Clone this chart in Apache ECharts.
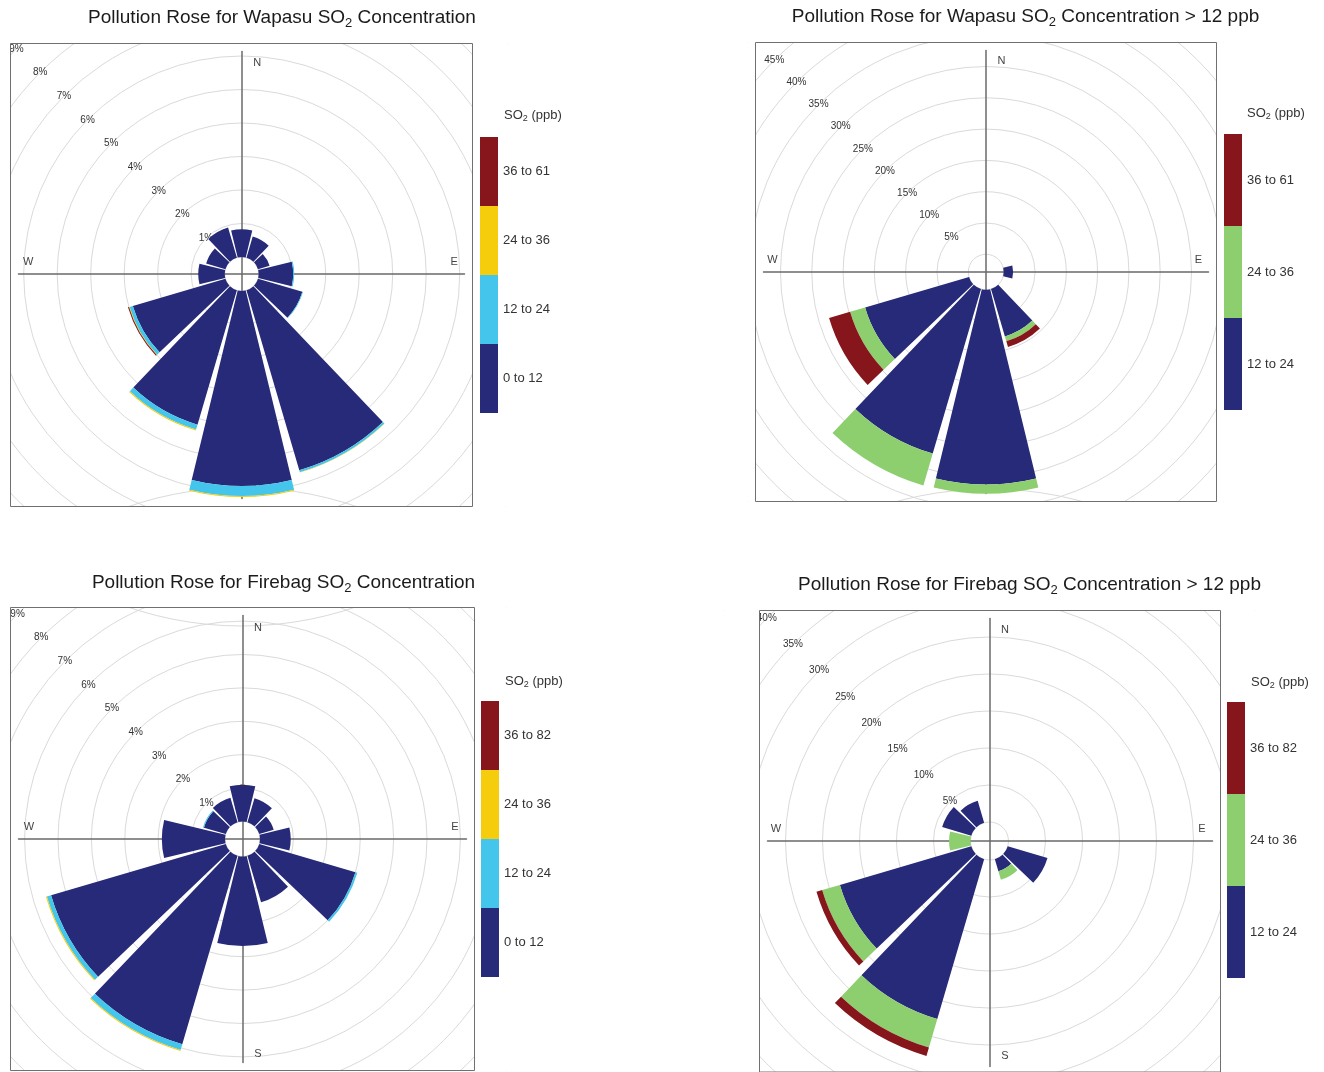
<!DOCTYPE html>
<html>
<head>
<meta charset="utf-8">
<title>Pollution Roses – Wapasu and Firebag SO2</title>
<script src="https://cdn.jsdelivr.net/npm/echarts@6/dist/echarts.min.js"></script>
<style>
  html, body { margin: 0; padding: 0; background: #fff; }
  #chart { width: 1324px; height: 1072px; }
</style>
</head>
<body>
<div id="chart"></div>
<script>
// Wind sectors (degrees clockwise from north), 30° wide
const sectors = ['0', '30', '60', '90', '120', '150', '180', '210', '240', '270', '300', '330'];

// Wapasu, all hours: frequency (% of hours) in each SO2 band
const wapasuAllBands = ['0 to 12', '12 to 24', '24 to 36', '36 to 61'];
const wapasuAll_0_12  = [0.83, 0.66, 0.36, 1.03, 1.38, 5.60, 5.82, 4.18, 2.88, 0.79, 0.60, 0.94];
const wapasuAll_12_24 = [0, 0, 0, 0.03, 0.02, 0.06, 0.30, 0.15, 0.10, 0, 0, 0];
const wapasuAll_24_36 = [0, 0, 0, 0, 0, 0.01, 0.03, 0.03, 0.02, 0, 0, 0];
const wapasuAll_36_61 = [0, 0, 0, 0, 0, 0, 0, 0, 0.03, 0, 0, 0];

// Wapasu, hours above 12 ppb
const wapasuHighBands = ['12 to 24', '24 to 36', '36 to 61'];
const wapasuHigh_12_24 = [0, 0, 0, 1.5, 0, 7.9, 31.1, 27.4, 17.3, 0, 0, 0];
const wapasuHigh_24_36 = [0, 0, 0, 0, 0, 0.8, 1.5, 5.3, 2.5, 0, 0, 0];
const wapasuHigh_36_61 = [0, 0, 0, 0, 0, 0.95, 0, 0, 3.5, 0, 0, 0];

// Firebag, all hours
const firebagAllBands = ['0 to 12', '12 to 24', '24 to 36', '36 to 82'];
const firebagAll_0_12  = [1.10, 0.75, 0.45, 0.92, 3.00, 1.45, 2.68, 5.88, 5.45, 1.89, 0.68, 0.76];
const firebagAll_12_24 = [0, 0, 0, 0, 0.06, 0, 0, 0.18, 0.13, 0, 0.03, 0];
const firebagAll_24_36 = [0, 0, 0, 0, 0, 0, 0, 0.03, 0.03, 0, 0, 0];
const firebagAll_36_82 = [0, 0, 0, 0, 0, 0, 0, 0, 0, 0, 0, 0];

// Firebag, hours above 12 ppb
const firebagHighBands = ['12 to 24', '24 to 36', '36 to 82'];
const firebagHigh_12_24 = [0, 0, 0, 0, 5.6, 1.7, 0, 22.5, 18.5, 0, 4.1, 3.1];
const firebagHigh_24_36 = [0, 0, 0, 0, 0, 1.2, 0, 4.0, 2.5, 2.9, 0, 0];
const firebagHigh_36_82 = [0, 0, 0, 0, 0, 0, 0, 1.2, 0.8, 0, 0, 0];

// Band colours
const NAVY = '#262a78', CYAN = '#44c5ec', YELLOW = '#f6cd0c', DARKRED = '#86161b', GREEN = '#8dcf6e';

const FONT = '"Liberation Sans", Arial, Helvetica, sans-serif';

// Panel layout: frame box, rose centre, hole radius, pixels per axis unit
const panels = [
  {
    site: 'Wapasu', suffix: '',
    frame: { l: 10.5, t: 43.5, r: 472.5, b: 506.5 }, center: [241.7, 274],
    hole: 17, unitPx: 33.5, max: 10, step: 1,
    titleAt: [282, 18], headAt: [504, 115], legendAt: [480, 137], blockH: 69,
    bands: wapasuAllBands, colors: [NAVY, CYAN, YELLOW, DARKRED],
    values: [wapasuAll_0_12, wapasuAll_12_24, wapasuAll_24_36, wapasuAll_36_61]
  },
  {
    site: 'Wapasu', suffix: ' > 12 ppb',
    frame: { l: 755.5, t: 42.5, r: 1216.5, b: 501.5 }, center: [986, 272],
    hole: 17.7, unitPx: 6.26, max: 50, step: 5,
    titleAt: [1025.5, 17], headAt: [1247, 113], legendAt: [1224, 134], blockH: 92,
    bands: wapasuHighBands, colors: [NAVY, GREEN, DARKRED],
    values: [wapasuHigh_12_24, wapasuHigh_24_36, wapasuHigh_36_61]
  },
  {
    site: 'Firebag', suffix: '',
    frame: { l: 10.5, t: 607.5, r: 474.5, b: 1070.5 }, center: [242.5, 839],
    hole: 17.5, unitPx: 33.4, max: 10, step: 1,
    titleAt: [283.5, 583], headAt: [505, 681], legendAt: [481, 701], blockH: 69,
    bands: firebagAllBands, colors: [NAVY, CYAN, YELLOW, DARKRED],
    values: [firebagAll_0_12, firebagAll_12_24, firebagAll_24_36, firebagAll_36_82]
  },
  {
    site: 'Firebag', suffix: ' > 12 ppb',
    frame: { l: 759.5, t: 610.5, r: 1220.5, b: 1074.5 }, center: [989.5, 841],
    hole: 19, unitPx: 7.4, max: 45, step: 5,
    titleAt: [1029.5, 585], headAt: [1251, 682], legendAt: [1227, 702], blockH: 92,
    bands: firebagHighBands, colors: [NAVY, GREEN, DARKRED],
    values: [firebagHigh_12_24, firebagHigh_24_36, firebagHigh_36_82]
  }
];

// Cells that tile the page; everything in a cell outside its frame is blanked
const SPLIT_X = 614, SPLIT_Y = 556;
const cells = [
  { x0: -40, y0: -40, x1: SPLIT_X, y1: SPLIT_Y },
  { x0: SPLIT_X, y0: -40, x1: 1364, y1: SPLIT_Y },
  { x0: -40, y0: SPLIT_Y, x1: SPLIT_X, y1: 1112 },
  { x0: SPLIT_X, y0: SPLIT_Y, x1: 1364, y1: 1112 }
];

const option = {
  animation: false,
  backgroundColor: '#ffffff',
  polar: [], angleAxis: [], radiusAxis: [],
  grid: [], xAxis: [], yAxis: [],
  legend: [], series: [], graphic: []
};

const INSET = 8;        // crosshair stops short of the frame
const AXIS_GREY = '#6a6a6a';

panels.forEach((p, k) => {
  const [cx, cy] = p.center;
  const outer = p.hole + p.unitPx * p.max;
  const f = p.frame;

  // Polar for the petals (first sector centred on north)
  option.polar.push({ center: [cx, cy], radius: [p.hole, outer] });
  option.angleAxis.push({
    polarIndex: 2 * k, type: 'category', data: sectors, startAngle: 105, clockwise: true,
    boundaryGap: true,
    axisLine: { show: false }, axisTick: { show: false }, axisLabel: { show: false },
    splitLine: { show: false }, splitArea: { show: false }
  });
  option.radiusAxis.push({
    polarIndex: 2 * k, type: 'value', min: 0, max: p.max,
    axisLine: { show: false }, axisTick: { show: false }, axisLabel: { show: false },
    splitLine: { show: false }
  });

  // Polar for the percentage rings, labelled along the north-west radius
  option.polar.push({ center: [cx, cy], radius: [p.hole, outer] });
  option.angleAxis.push({
    polarIndex: 2 * k + 1, type: 'value', min: 0, max: 360, startAngle: 135,
    axisLine: { show: false }, axisTick: { show: false }, axisLabel: { show: false },
    splitLine: { show: false }, splitArea: { show: false }
  });
  option.radiusAxis.push({
    polarIndex: 2 * k + 1, type: 'value', min: 0, max: p.max, interval: p.step, z: 0,
    axisLine: { show: false }, axisTick: { show: false },
    axisLabel: {
      show: true, formatter: '{value}%', margin: 0, align: 'center', verticalAlign: 'middle',
      fontSize: 10, color: '#333', fontFamily: FONT, showMinLabel: false
    },
    splitLine: { show: true, lineStyle: { color: '#dadada', width: 1 } }
  });

  // Frame
  option.grid.push({
    left: f.l, top: f.t, width: f.r - f.l, height: f.b - f.t,
    show: true, borderColor: '#707070', borderWidth: 1, backgroundColor: 'transparent', z: 5
  });
  option.xAxis.push({ gridIndex: 2 * k, type: 'value', min: 0, max: 1, show: false });
  option.yAxis.push({ gridIndex: 2 * k, type: 'value', min: 0, max: 1, show: false });

  // Crosshair through the rose centre
  const gl = f.l + INSET, gr = f.r - INSET, gt = f.t + INSET, gb = f.b - INSET;
  option.grid.push({ left: gl, top: gt, width: gr - gl, height: gb - gt, show: false });
  const crossLine = { show: true, onZero: true, lineStyle: { color: AXIS_GREY, width: 1.5 } };
  option.xAxis.push({
    gridIndex: 2 * k + 1, type: 'value', min: gl - cx, max: gr - cx, z: 1,
    axisLine: crossLine, axisTick: { show: false }, axisLabel: { show: false }, splitLine: { show: false }
  });
  option.yAxis.push({
    gridIndex: 2 * k + 1, type: 'value', min: cy - gb, max: cy - gt, z: 1,
    axisLine: crossLine, axisTick: { show: false }, axisLabel: { show: false }, splitLine: { show: false }
  });

  // Stacked petals
  p.bands.forEach((band, j) => {
    option.series.push({
      type: 'bar', coordinateSystem: 'polar', polarIndex: 2 * k,
      name: k + ':' + band, stack: 'rose' + k, data: p.values[j],
      barCategoryGap: '9%', itemStyle: { color: p.colors[j] }, silent: true, z: 2
    });
  });

  // Colour key
  option.legend.push({
    orient: 'vertical', left: p.legendAt[0], top: p.legendAt[1], padding: 0, itemGap: 0,
    itemWidth: 18, itemHeight: p.blockH, icon: 'rect', selectedMode: false, z: 6,
    data: p.bands.slice().reverse().map(b => k + ':' + b),
    formatter: n => n.slice(n.indexOf(':') + 1),
    textStyle: { fontSize: 13, color: '#333', fontFamily: FONT }
  });

  // White surround outside the frame
  const c = cells[k];
  [
    [c.x0, c.y0, c.x1 - c.x0, f.t - c.y0],
    [c.x0, f.b, c.x1 - c.x0, c.y1 - f.b],
    [c.x0, f.t, f.l - c.x0, f.b - f.t],
    [f.r, f.t, c.x1 - f.r, f.b - f.t]
  ].forEach(([x, y, w, h]) => {
    option.graphic.push({
      type: 'rect', silent: true, z: 3,
      shape: { x: x, y: y, width: w, height: h }, style: { fill: '#ffffff' }
    });
  });

  // Compass letters
  [['N', 15.5, -211], ['E', 212.5, -12], ['S', 15.5, 215], ['W', -213.5, -12]].forEach(([t, dx, dy]) => {
    option.graphic.push({
      type: 'text', x: cx + dx, y: cy + dy, z: 1, silent: true,
      style: { text: t, fill: '#444', fontSize: 11, fontFamily: FONT, align: 'center', verticalAlign: 'middle' }
    });
  });

  // Panel title with subscript
  option.graphic.push({
    type: 'text', x: p.titleAt[0], y: p.titleAt[1], z: 10, silent: true,
    style: {
      text: '{t|Pollution Rose for ' + p.site + ' SO}{s|2}{t| Concentration' + p.suffix + '}',
      align: 'center', verticalAlign: 'middle',
      rich: {
        t: { fontSize: 19, fontFamily: FONT, fill: '#1b1b1b', lineHeight: 24 },
        s: { fontSize: 13, fontFamily: FONT, fill: '#1b1b1b', lineHeight: 13, verticalAlign: 'bottom' }
      }
    }
  });

  // Colour key heading
  option.graphic.push({
    type: 'text', x: p.headAt[0], y: p.headAt[1], z: 10, silent: true,
    style: {
      text: '{t|SO}{s|2}{t| (ppb)}',
      align: 'left', verticalAlign: 'middle',
      rich: {
        t: { fontSize: 13, fontFamily: FONT, fill: '#333', lineHeight: 16 },
        s: { fontSize: 9, fontFamily: FONT, fill: '#333', lineHeight: 9, verticalAlign: 'bottom' }
      }
    }
  });
});

const chart = echarts.init(document.getElementById('chart'), null, { renderer: 'canvas' });
chart.setOption(option);
</script>
</body>
</html>
